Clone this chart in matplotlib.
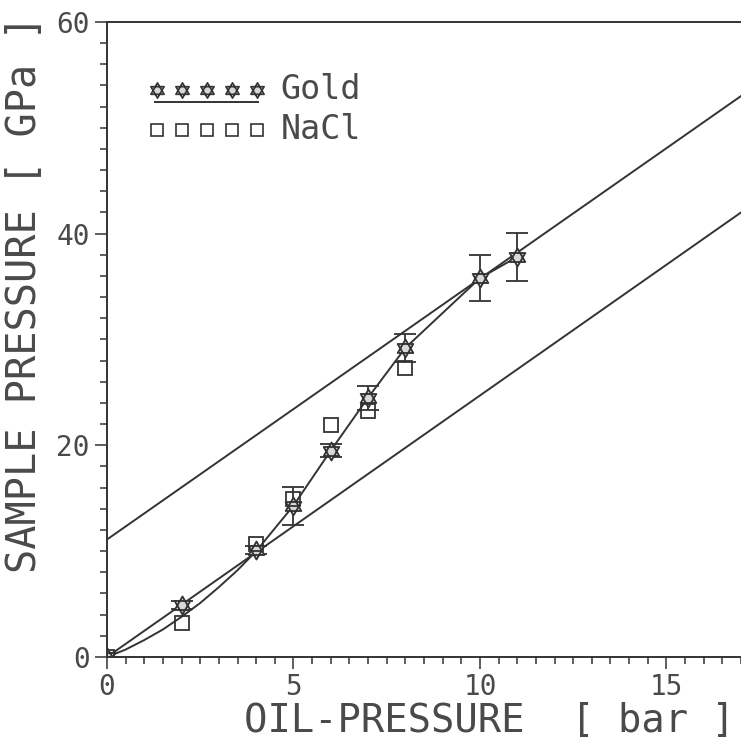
import numpy as np
import matplotlib
matplotlib.use("Agg")
import matplotlib.pyplot as plt
from matplotlib.path import Path
from matplotlib.ticker import MultipleLocator

gold_x = [0, 2, 4, 5, 6, 7, 8, 10, 11]
gold_y = [0.0, 4.9, 10.1, 14.3, 19.5, 24.5, 29.2, 35.8, 37.8]
gold_err = [0.0, 0.4, 0.4, 1.8, 0.6, 1.15, 1.3, 2.2, 2.3]

nacl_x = [0, 2, 4, 5, 6, 7, 8]
nacl_y = [0.0, 3.2, 10.7, 14.9, 21.9, 23.2, 27.3]

# Ausgleichskurve durch die Gold-Werte
fit_x = [0, 0.5, 1, 1.5, 2, 2.5, 3, 3.5, 4, 5, 6, 7, 8, 10, 11]
fit_y = [0.0, 0.7, 1.6, 2.6, 3.8, 5.1, 6.6, 8.2, 10.0, 14.3, 19.5, 24.5, 29.2, 35.8, 37.8]

# Kalibriergeraden
calib_x = [0, 17]
lower_y = [0.0, 42.0]
upper_y = [11.1, 53.0]

INK = '#333333'
TXT = '#4a4a4a'
FONT = 'DejaVu Sans Mono'

# Davidstern als Marker (zwei Dreiecke)
ang = np.deg2rad([90, 210, 330])
up = np.column_stack([np.cos(ang), np.sin(ang)])
down = -up
verts = np.vstack([up, up[:1], down, down[:1]])
codes = [Path.MOVETO, Path.LINETO, Path.LINETO, Path.CLOSEPOLY] * 2
star = Path(verts, codes)

fig = plt.figure(figsize=(7.41, 7.42), dpi=100)
ax = fig.add_axes([0.1444, 0.1146, 0.8556, 0.8558])

ax.plot(calib_x, lower_y, color=INK, lw=1.4)
ax.plot(calib_x, upper_y, color=INK, lw=1.4)
ax.plot(fit_x, fit_y, color=INK, lw=1.4)

ax.errorbar(gold_x, gold_y, yerr=gold_err, fmt='none', ecolor=INK,
            elinewidth=1.3, capsize=8, capthick=1.3)
ax.plot(gold_x, gold_y, ls='none', marker=star, ms=13, mfc='#d8d8d8',
        mec=INK, mew=1.3)
ax.plot(nacl_x, nacl_y, ls='none', marker='s', ms=10, mfc='none',
        mec=INK, mew=1.3)

# Legende
lx = 0.0784 + 0.0394 * np.arange(5)
ax.plot(lx, [0.893] * 5, ls='none', marker=star, ms=11, mfc='#d8d8d8',
        mec=INK, mew=1.2, transform=ax.transAxes, clip_on=False)
ax.plot([0.075, 0.238], [0.874, 0.874], color=INK, lw=1.4,
        transform=ax.transAxes)
ax.plot(lx, [0.830] * 5, ls='none', marker='s', ms=9, mfc='none',
        mec=INK, mew=1.2, transform=ax.transAxes)
ax.text(0.274, 0.893, 'Gold', transform=ax.transAxes, va='center',
        ha='left', fontsize=24, family=FONT, color=TXT)
ax.text(0.274, 0.830, 'NaCl', transform=ax.transAxes, va='center',
        ha='left', fontsize=24, family=FONT, color=TXT)

ax.set_xlim(0, 17)
ax.set_ylim(0, 60)
ax.xaxis.set_major_locator(MultipleLocator(5))
ax.xaxis.set_minor_locator(MultipleLocator(0.5))
ax.yaxis.set_major_locator(MultipleLocator(20))
ax.yaxis.set_minor_locator(MultipleLocator(2))
ax.tick_params(which='both', direction='out', color=INK, width=1.1)
ax.tick_params(which='major', length=8.5, pad=4, labelsize=20, labelcolor=TXT)
ax.tick_params(which='minor', length=5)
ax.tick_params(axis='x', which='major', pad=3)
for lab in ax.get_xticklabels() + ax.get_yticklabels():
    lab.set_family(FONT)

ax.spines['right'].set_visible(False)
for s in ('left', 'bottom', 'top'):
    ax.spines[s].set_color(INK)
    ax.spines[s].set_linewidth(1.4)

ax.set_xlabel('OIL-PRESSURE  [ bar ]', fontsize=28, family=FONT, color=TXT,
              va='center', ha='center')
ax.set_ylabel('SAMPLE PRESSURE [ GPa ]', fontsize=29, family=FONT, color=TXT,
              va='center', ha='center')
ax.xaxis.set_label_coords(0.604, -0.101)
ax.yaxis.set_label_coords(-0.13, 0.572)

fig.savefig('out.png', dpi=100, facecolor='white')
